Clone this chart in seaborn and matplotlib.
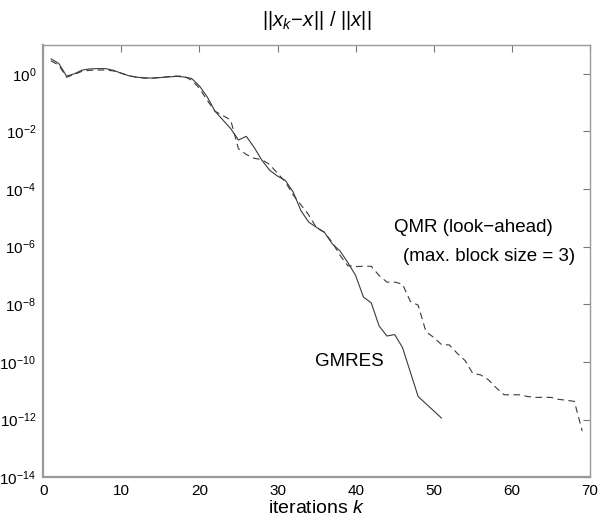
import numpy as np
import pandas as pd
import matplotlib
matplotlib.use("Agg")
import matplotlib.pyplot as plt
import seaborn as sns

# ---- data (log10 of relative error) ----
gmres_k = list(range(1, 52))
gmres_log = [0.52, 0.36, -0.08, 0.0, 0.13, 0.17, 0.18, 0.18, 0.12, 0.02,
             -0.07, -0.12, -0.14, -0.15, -0.13, -0.11, -0.09, -0.11, -0.16, -0.42,
             -0.8, -1.3, -1.6, -1.9, -2.3, -2.17, -2.55, -3.0, -3.35, -3.55,
             -3.7, -4.1, -4.75, -5.15, -5.33, -5.5, -5.9, -6.15, -6.55, -7.0,
             -7.75, -7.95, -8.75, -9.1, -9.05, -9.5, -10.35, -11.2, -11.45, -11.7,
             -11.95]

qmr_k = list(range(1, 70))
qmr_log = [0.45, 0.3, -0.12, -0.02, 0.09, 0.12, 0.13, 0.13, 0.1, 0.02,
           -0.07, -0.12, -0.15, -0.15, -0.13, -0.1, -0.08, -0.08, -0.22, -0.5,
           -0.92, -1.3, -1.45, -1.6, -2.6, -2.8, -2.93, -2.98, -3.15, -3.45,
           -3.75, -4.2, -4.55, -4.9, -5.35, -5.5, -5.85, -6.3, -6.66, -6.69,
           -6.68, -6.68, -7.0, -7.23, -7.23, -7.3, -7.9, -8.03, -8.95, -9.15,
           -9.4, -9.41, -9.7, -9.95, -10.4, -10.45, -10.62, -10.9, -11.14, -11.14,
           -11.14, -11.2, -11.23, -11.23, -11.23, -11.3, -11.33, -11.37, -12.4]

title_text = r'$||x_k\!-\!x||\ /\ ||x||$'
xlabel_text = r'iterations $k$'
label_qmr_1 = 'QMR (look\u2212ahead)'
label_qmr_2 = '(max. block size = 3)'
label_gmres = 'GMRES'
xticks = [0, 10, 20, 30, 40, 50, 60, 70]
ytick_exps = [0, -2, -4, -6, -8, -10, -12, -14]

gmres_df = pd.DataFrame({'k': gmres_k, 'err': np.power(10.0, gmres_log)})
qmr_df = pd.DataFrame({'k': qmr_k, 'err': np.power(10.0, qmr_log)})

sns.set_style('white')
plt.rcParams['font.family'] = ['Liberation Sans', 'DejaVu Sans']
plt.rcParams['mathtext.fontset'] = 'custom'
plt.rcParams['mathtext.rm'] = 'Liberation Sans'
plt.rcParams['mathtext.it'] = 'Liberation Sans:italic'
plt.rcParams['mathtext.bf'] = 'Liberation Sans:bold'
plt.rcParams['text.color'] = 'black'
plt.rcParams['axes.labelcolor'] = 'black'
plt.rcParams['xtick.labelcolor'] = 'black'
plt.rcParams['ytick.labelcolor'] = 'black'

fig = plt.figure(figsize=(5.99, 5.17), dpi=100)
ax = fig.add_axes([0.072, 0.077, 0.913, 0.836])

line_col = '#3a3a3a'
sns.lineplot(data=gmres_df, x='k', y='err', ax=ax, color=line_col, linewidth=0.8)
sns.lineplot(data=qmr_df, x='k', y='err', ax=ax, color=line_col, linewidth=0.8,
             linestyle=(0, (6, 4)))

ax.set_yscale('log')
ax.set_xlim(0, 70)
ax.set_ylim(1e-14, 1e1)
ax.set_xticks(xticks)
ax.set_xticklabels([str(t) for t in xticks])
ax.set_yticks([10.0 ** e for e in ytick_exps])
ax.set_yticklabels([r'$10^{%d}$' % e for e in ytick_exps])
ax.yaxis.set_minor_locator(matplotlib.ticker.NullLocator())

ax.tick_params(axis='both', which='major', direction='in', length=5, width=0.8,
               color='#777777', labelsize=11, top=True, right=True, pad=5)
for s in ax.spines.values():
    s.set_color('#999999')
    s.set_linewidth(1.0)
ax.spines['left'].set_linewidth(1.6)
ax.spines['bottom'].set_linewidth(1.6)

ax.set_xlabel(xlabel_text, fontsize=14, labelpad=1, color='black')
ax.set_ylabel('')
ax.set_title(title_text, fontsize=14.5, pad=14, color='black')

ax.text(44.9, 10 ** -5.34, label_qmr_1, fontsize=13.5, ha='left', va='center', color='black')
ax.text(46.0, 10 ** -6.34, label_qmr_2, fontsize=13.5, ha='left', va='center', color='black')
ax.text(34.8, 10 ** -10.0, label_gmres, fontsize=13.5, ha='left', va='center', color='black')

fig.savefig('out.png', dpi=100)
